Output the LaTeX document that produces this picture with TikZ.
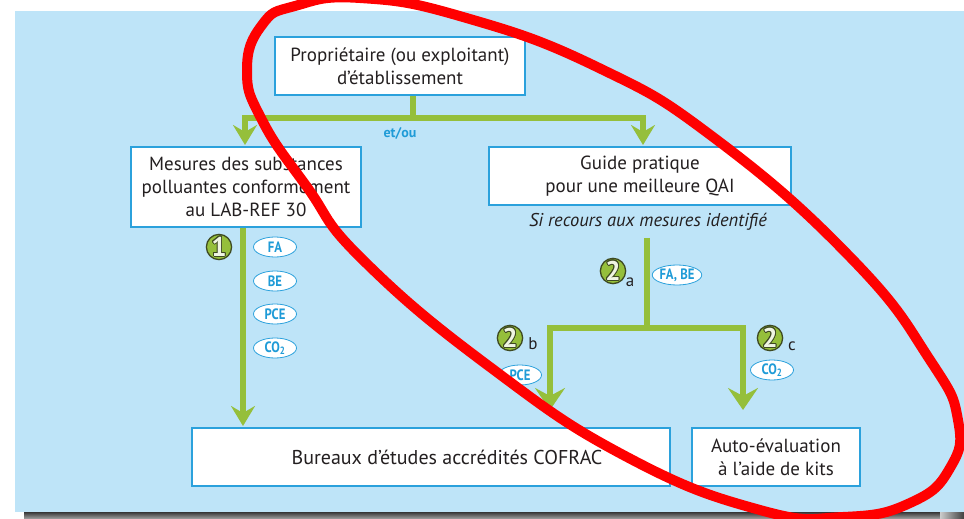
\documentclass[tikz,border=0pt]{standalone}
\usepackage{fontspec}
\setmainfont{PT Sans}
\newfontfamily\bubfont{PT Sans}[FakeStretch=0.85]
\usepackage{contour}
\contourlength{0.9pt}
\usetikzlibrary{shapes.geometric,arrows.meta}
\definecolor{panel}{HTML}{BEE4F8}
\definecolor{boxblue}{HTML}{2BA1DC}
\definecolor{bubtext}{HTML}{1F9BD7}
\definecolor{gr}{HTML}{95BF3B}
\definecolor{dgr}{HTML}{3E4A22}
\definecolor{txt}{HTML}{231F20}
\tikzset{
  box/.style={draw=boxblue, line width=2pt, fill=white, align=center, inner sep=0pt,
    text=txt, font=\fontsize{19}{23}\selectfont},
  gline/.style={draw=gr, line width=6pt},
  garrow/.style={gline, -{Stealth[length=20pt,width=24pt,inset=7pt]}},
  garrowbig/.style={gline, -{Stealth[length=22pt,width=30pt,inset=8pt]}},
  badge/.style={circle, fill=gr, draw=dgr, line width=1.3pt, minimum size=25pt, inner sep=0pt},
  bubble/.style={ellipse, draw=boxblue, line width=0.8pt, fill=white, minimum width=43pt,
    minimum height=20pt, inner sep=0pt, text=bubtext, font=\bubfont\bfseries\fontsize{15}{15}\selectfont},
  sub/.style={text=txt, font=\fontsize{17}{17}\selectfont, inner sep=0pt}
}
\newcommand{\badgenum}[1]{{\fontsize{27}{27}\selectfont\bfseries\contour{dgr}{\textcolor{white!85!gr}{#1}}}}
\begin{document}
\begin{tikzpicture}[x=1pt,y=-1pt]
\useasboundingbox (0,0) rectangle (964,519);
% panel and shadow
\shade[top color=black!85, bottom color=black!35] (24,511) rectangle (964,519);
\shade[left color=black!20, right color=black!75] (940,519) -- (940,470) .. controls (950,480) and (958,490) .. (964,500) -- (964,519) -- cycle;
\fill[panel] (15,11) rectangle (964,512);

% boxes
\node[box, minimum width=250pt, minimum height=58pt] (prop) at (400,66) {Propriétaire (ou exploitant)\\d’établissement};
\node[box, minimum width=230pt, minimum height=80pt] (mes) at (246,187) {Mesures des substances\\polluantes conformément\\au LAB-REF 30};
\node[box, minimum width=302pt, minimum height=58pt] (guide) at (640,176) {Guide pratique\\pour une meilleure QAI};
\node[text=txt, font=\itshape\fontsize{18.5}{18.5}\selectfont, inner sep=0pt] (si) at (648,222) {Si recours aux mesures identifié};
\node[box, minimum width=478pt, minimum height=58pt, font=\fontsize{20}{23}\selectfont] (bur) at (431,457) {\hspace*{32pt}Bureaux d’études accrédités COFRAC};
\node[box, minimum width=168pt, minimum height=58pt] (auto) at (776,457) {Auto-évaluation\\à l’aide de kits};

% connectors
\coordinate (j1) at (413,118);
\draw[gline] ([xshift=13pt]prop.south) -- (j1);
\draw[garrow] (j1) -| ([xshift=-1pt,yshift=1pt]mes.north);
\draw[garrow] (j1) -| ([xshift=3pt,yshift=1pt]guide.north);
\node[text=bubtext, font=\bfseries\fontsize{14}{14}\selectfont] (etou) at (400,133) {et/ou};

\draw[garrow] ([xshift=-3pt]mes.south) -- ([xshift=-3pt,yshift=1pt]mes.south |- bur.north);

\coordinate (j2) at (647,328);
\draw[gline] ([yshift=-7pt]si.south -| j2) -- (j2);
\draw[garrowbig] (j2) -| ([yshift=17pt]bur.north -| 550,0);
\draw[garrowbig] (j2) -| ([yshift=17pt]auto.north -| 743,0);

% badges & bubbles
\node[badge] (b1) at (219,247) {\badgenum{1}};
\node[bubble] (fa) at (275,247) {FA};
\node[bubble] (be) at (275,281) {BE};
\node[bubble] (pce1) at (275,314) {PCE};
\node[bubble] (co1) at (275,348) {CO\textsubscript{2}};

\node[badge] (b2a) at (613,271) {\badgenum{2}};
\node[sub] (sa) at (630,282) {a};
\node[bubble, minimum width=45pt] (fabe) at (677,275) {FA, BE};

\node[badge] (b2b) at (510,338) {\badgenum{2}};
\node[sub] (sb) at (533,344) {b};
\node[bubble] (pce2) at (520,375) {PCE};

\node[badge] (b2c) at (770,338) {\badgenum{2}};
\node[sub] (sc) at (792,346) {c};
\node[bubble] (co2) at (772,370) {CO\textsubscript{2}};

% red ellipse
\begin{scope}
\clip (0,0) rectangle (964,519);
\draw[red, line width=10pt, line join=round] plot[smooth cycle, tension=0.8] coordinates {
 (262,25) (247,70) (262,120) (307,187) (363,260) (490,367) (627,457) (760,510)
 (843,517) (910,503) (950,468) (958,420) (930,360) (853,260) (717,140) (597,67)
 (463,17) (360,-2) (295,6)};
\end{scope}
\end{tikzpicture}
\end{document}
